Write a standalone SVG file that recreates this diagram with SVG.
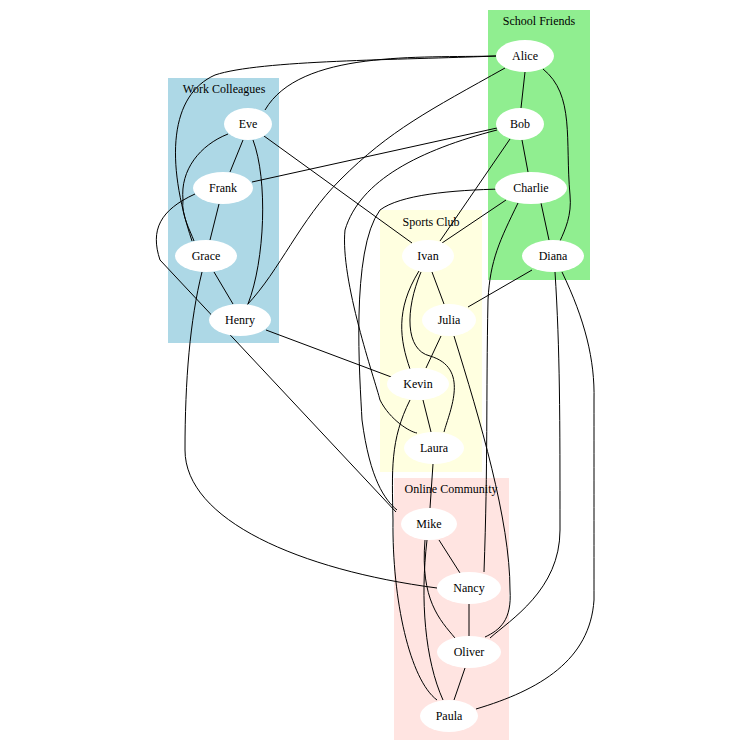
<svg xmlns="http://www.w3.org/2000/svg" width="750" height="750" viewBox="0 0 750 750">
<style>
text{font-family:"Liberation Serif","Times New Roman",serif;font-size:12px;text-anchor:middle;fill:#000}
.n ellipse{fill:#fff;stroke:none}
#edges path{fill:none;stroke:#000;stroke-width:1}
</style>
<rect width="750" height="750" fill="#fff"/>
<g id="clusters">
<rect x="488" y="10" width="102" height="270" fill="#90ee90"/><text x="539" y="25">School Friends</text>
<rect x="168" y="78" width="111" height="265" fill="#add8e6"/><text x="224" y="93">Work Colleagues</text>
<rect x="380" y="210" width="102" height="262" fill="#ffffe0"/><text x="431" y="226">Sports Club</text>
<rect x="394" y="478" width="115" height="262" fill="#ffe4e1"/><text x="451" y="493">Online Community</text>
</g>
<g id="edges">
<path d="M525,72 L521,108"/>
<path d="M543,69 C575,95 565,140 570,195 C572,215 565,230 560,241"/>
<path d="M496,56 C420,58 300,50 265,110"/>
<path d="M496,56 C400,60 260,60 215,75 C170,95 165,160 192,241"/>
<path d="M505,68 C430,110 390,130 340,180 C300,220 280,270 247,305"/>
<path d="M522,140 L528,172"/>
<path d="M497,128 L252,182"/>
<path d="M510,139 L440,241"/>
<path d="M497,130 C420,150 360,180 345,230 C340,280 375,380 380,400 C390,420 410,432 417,433"/>
<path d="M541,203 L549,240"/>
<path d="M506,200 L442,243"/>
<path d="M503,189 C450,190 400,195 380,210 C350,250 360,380 362,420 C370,480 385,500 397,510"/>
<path d="M518,203 C500,240 490,260 488,300 C486,400 488,460 484,572"/>
<path d="M532,270 L468,307"/>
<path d="M555,272 C560,350 560,420 560,530 C560,590 510,620 490,638"/>
<path d="M562,272 C585,320 595,360 594,400 C594,470 594,550 594,600 C590,660 540,690 476,709"/>
<path d="M243,140 L230,172"/>
<path d="M228,134 C200,145 180,170 183,200 C181,215 190,230 194,241"/>
<path d="M253,140 C268,180 265,260 248,304"/>
<path d="M264,136 L412,243"/>
<path d="M219,204 L210,240"/>
<path d="M195,194 C160,210 150,230 160,260 L396,512"/>
<path d="M214,272 L233,304"/>
<path d="M202,272 C190,320 185,380 185,450 C185,520 300,570 437,588"/>
<path d="M266,330 L394,378"/>
<path d="M432,272 L444,304"/>
<path d="M419,271 C395,310 400,340 410,369"/>
<path d="M421,272 C405,310 405,350 430,356 C470,368 450,410 444,432"/>
<path d="M441,336 L426,368"/>
<path d="M454,336 C480,420 510,520 510,590 C512,620 500,630 485,637"/>
<path d="M423,400 L431,432"/>
<path d="M410,400 C390,440 392,470 393,520 C392,600 410,680 437,700"/>
<path d="M433,464 L430,508"/>
<path d="M439,540 L460,573"/>
<path d="M425,540 C420,600 440,620 455,638"/>
<path d="M427,540 C420,600 425,660 443,700"/>
<path d="M469,604 L469,636"/>
<path d="M465,668 L454,700"/>
</g>
<g id="Alice" class="n"><ellipse cx="525" cy="56" rx="29" ry="16"/><text x="525" y="60">Alice</text></g>
<g id="Bob" class="n"><ellipse cx="520" cy="124" rx="24" ry="16"/><text x="520" y="128">Bob</text></g>
<g id="Charlie" class="n"><ellipse cx="531" cy="188" rx="36" ry="16"/><text x="531" y="192">Charlie</text></g>
<g id="Diana" class="n"><ellipse cx="553" cy="256" rx="31" ry="16"/><text x="553" y="260">Diana</text></g>
<g id="Eve" class="n"><ellipse cx="248" cy="124" rx="24" ry="16"/><text x="248" y="128">Eve</text></g>
<g id="Frank" class="n"><ellipse cx="223" cy="188" rx="30" ry="16"/><text x="223" y="192">Frank</text></g>
<g id="Grace" class="n"><ellipse cx="206" cy="256" rx="31" ry="16"/><text x="206" y="260">Grace</text></g>
<g id="Henry" class="n"><ellipse cx="240" cy="320" rx="31" ry="16"/><text x="240" y="324">Henry</text></g>
<g id="Ivan" class="n"><ellipse cx="428" cy="256" rx="26" ry="16"/><text x="428" y="260">Ivan</text></g>
<g id="Julia" class="n"><ellipse cx="449" cy="320" rx="27" ry="16"/><text x="449" y="324">Julia</text></g>
<g id="Kevin" class="n"><ellipse cx="418" cy="384" rx="31" ry="16"/><text x="418" y="388">Kevin</text></g>
<g id="Laura" class="n"><ellipse cx="434" cy="448" rx="30" ry="16"/><text x="434" y="452">Laura</text></g>
<g id="Mike" class="n"><ellipse cx="429" cy="524" rx="28" ry="16"/><text x="429" y="528">Mike</text></g>
<g id="Nancy" class="n"><ellipse cx="469" cy="588" rx="32" ry="16"/><text x="469" y="592">Nancy</text></g>
<g id="Oliver" class="n"><ellipse cx="469" cy="652" rx="32" ry="16"/><text x="469" y="656">Oliver</text></g>
<g id="Paula" class="n"><ellipse cx="449" cy="716" rx="29" ry="16"/><text x="449" y="720">Paula</text></g>
</svg>
